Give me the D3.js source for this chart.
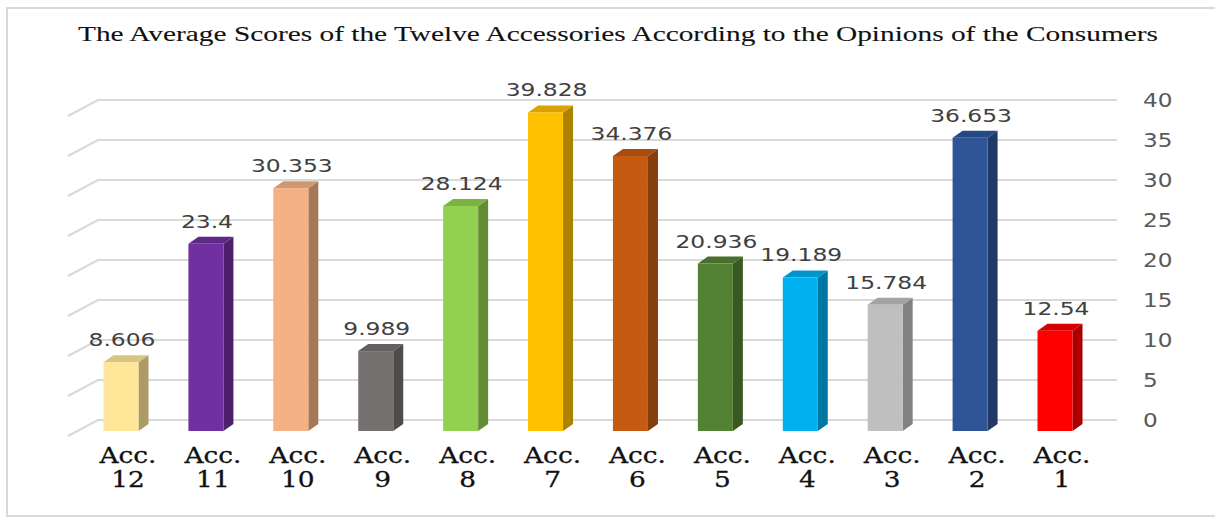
<!DOCTYPE html>
<html>
<head>
<meta charset="utf-8">
<script src="https://cdn.jsdelivr.net/npm/d3@7"></script>
<style>
  html, body { margin: 0; padding: 0; background: #ffffff; }
  svg { display: block; }
</style>
</head>
<body>
<svg id="chart" width="1215" height="519"></svg>
<script>
// Average score per accessory, in display order (left to right)
const categories = ["Acc. 12", "Acc. 11", "Acc. 10", "Acc. 9", "Acc. 8", "Acc. 7",
                    "Acc. 6", "Acc. 5", "Acc. 4", "Acc. 3", "Acc. 2", "Acc. 1"];
const scores = [8.606, 23.4, 30.353, 9.989, 28.124, 39.828,
                34.376, 20.936, 19.189, 15.784, 36.653, 12.54];
const labels = ["8.606", "23.4", "30.353", "9.989", "28.124", "39.828",
                "34.376", "20.936", "19.189", "15.784", "36.653", "12.54"];
const barColors = ["#FFE699", "#7030A0", "#F4B183", "#767171", "#92D050", "#FFC000",
                   "#C55A11", "#548235", "#00B0F0", "#BFBFBF", "#2F5597", "#FF0000"];
const tickValues = [0, 5, 10, 15, 20, 25, 30, 35, 40];

const svg = d3.select("#chart");

// outer frame
svg.append("rect")
  .attr("x", 7).attr("y", 8).attr("width", 1230).attr("height", 508)
  .attr("fill", "none").attr("stroke", "#d9d9d9").attr("stroke-width", 2);

// title
svg.append("text")
  .attr("x", 78).attr("y", 41)
  .attr("textLength", 1080).attr("lengthAdjust", "spacingAndGlyphs")
  .attr("font-family", "Liberation Serif, serif")
  .attr("font-size", 21).attr("fill", "#111")
  .attr("stroke", "#111").attr("stroke-width", 0.1)
  .text("The Average Scores of the Twelve Accessories According to the Opinions of the Consumers");

// scales: back wall and front plane of the bars
const yBack = d3.scaleLinear().domain([0, 40]).range([420, 100]);
const yFront = d3.scaleLinear().domain([0, 40]).range([431, 111]);
const x = d3.scalePoint().domain(categories).range([121, 1055]);

const wallLeft = 98, wallRight = 1117;
const floorDx = -30, floorDy = 16;

// back-wall gridlines with the receding side-wall segments
const grid = svg.append("g").attr("stroke", "#d9d9d9").attr("stroke-width", 2).attr("fill", "none");
tickValues.forEach(v => {
  const yb = yBack(v);
  grid.append("path")
    .attr("d", `M${wallLeft + floorDx},${yb + floorDy}L${wallLeft},${yb}L${wallRight},${yb}`);
});

// value axis on the right
const axis = d3.axisRight(yBack).tickValues(tickValues).tickSize(0).tickPadding(0);
const axisG = svg.append("g").attr("transform", `translate(1143,0)`).call(axis);
axisG.select(".domain").remove();
axisG.selectAll(".tick text")
  .attr("x", 0).attr("dy", "0.35em")
  .attr("text-anchor", "start")
  .attr("font-family", "DejaVu Sans, sans-serif")
  .attr("font-size", 19).attr("fill", "#595959")
  .attr("transform", "scale(1.22,1)");

// 3D columns
const barW = 35, depthDx = 10, depthDy = -7;
const bars = svg.append("g");
categories.forEach((c, i) => {
  const cx = x(c);
  const x0 = cx - barW / 2, x1 = cx + barW / 2;
  const yb = yFront(0), yt = yFront(scores[i]);
  const base = d3.color(barColors[i]);
  const g = bars.append("g");
  // side face
  g.append("path")
    .attr("d", `M${x1},${yb}L${x1 + depthDx},${yb + depthDy}L${x1 + depthDx},${yt + depthDy}L${x1},${yt}Z`)
    .attr("fill", base.darker(1.1).formatHex());
  // top face
  g.append("path")
    .attr("d", `M${x0},${yt}L${x0 + depthDx},${yt + depthDy}L${x1 + depthDx},${yt + depthDy}L${x1},${yt}Z`)
    .attr("fill", base.darker(0.45).formatHex());
  // front face
  g.append("rect")
    .attr("x", x0).attr("y", yt).attr("width", barW).attr("height", yb - yt)
    .attr("fill", base.formatHex());
});

// value labels above the columns
svg.append("g").selectAll("text")
  .data(categories)
  .join("text")
  .attr("transform", (c, i) => `translate(${x(c) + 1},${yFront(scores[i]) - 16}) scale(1.3,1)`)
  .attr("text-anchor", "middle")
  .attr("font-family", "DejaVu Sans, sans-serif")
  .attr("font-size", 18).attr("fill", "#404040")
  .text((c, i) => labels[i]);

// category labels, two lines each
const catG = svg.append("g");
categories.forEach(c => {
  const parts = c.split(" ");
  const t = catG.append("text")
    .attr("transform", `translate(${x(c) + 7},0) scale(1.2,1)`)
    .attr("text-anchor", "middle")
    .attr("font-family", "DejaVu Serif, serif")
    .attr("font-size", 22).attr("fill", "#111")
    .attr("stroke", "#111").attr("stroke-width", 0.3);
  t.append("tspan").attr("x", 0).attr("y", 463).text(parts[0]);
  t.append("tspan").attr("x", 0).attr("y", 487).text(parts[1]);
});
</script>
</body>
</html>
